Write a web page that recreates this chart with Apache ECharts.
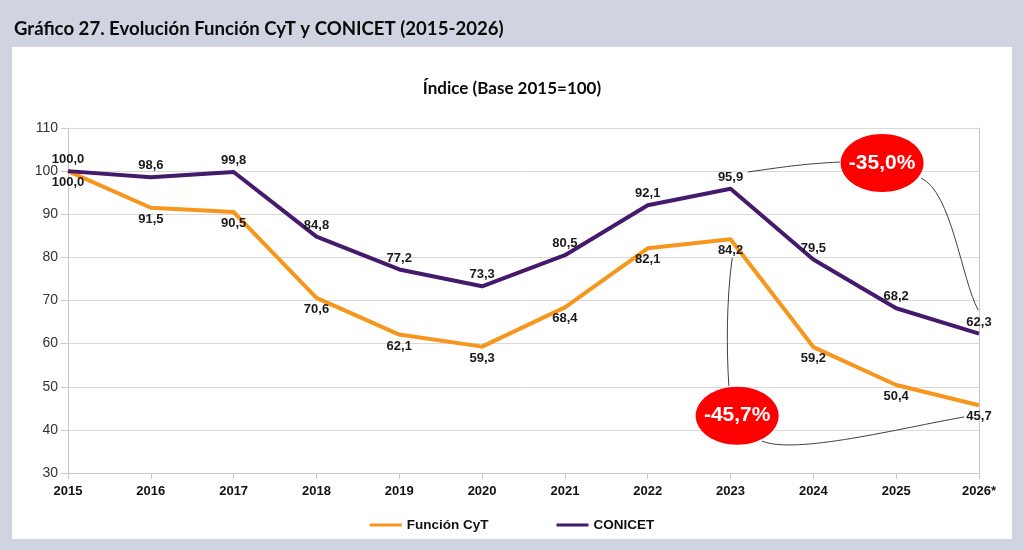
<!DOCTYPE html>
<html>
<head>
<meta charset="utf-8">
<script src="https://cdn.jsdelivr.net/npm/echarts@6/dist/echarts.min.js"></script>
<style>
  html, body { margin: 0; padding: 0; background: #d0d4e0; }
  #chart { width: 1024px; height: 550px; }
</style>
</head>
<body>
<div id="chart"></div>
<script>
var years = ['2015', '2016', '2017', '2018', '2019', '2020', '2021', '2022', '2023', '2024', '2025', '2026*'];
var funcionCyT = [100.0, 91.5, 90.5, 70.6, 62.1, 59.3, 68.4, 82.1, 84.2, 59.2, 50.4, 45.7];
var conicet = [100.0, 98.6, 99.8, 84.8, 77.2, 73.3, 80.5, 92.1, 95.9, 79.5, 68.2, 62.3];
var seriesNames = ['Función CyT', 'CONICET'];
var variaciones = ['-35,0%', '-45,7%'];

var myChart = echarts.init(document.getElementById('chart'));

function fmt(p) {
    return p.value.toFixed(1).replace('.', ',');
}

var labelStyle = {
    show: true,
    formatter: fmt,
    fontFamily: 'Liberation Sans',
    fontWeight: 'bold',
    fontSize: 13,
    color: '#1a1a1a',
    distance: 5
};

var panel = {
    type: 'rect',
    z: -10,
    shape: { x: 12, y: 47, width: 1000, height: 492 },
    style: { fill: '#ffffff' },
    silent: true
};

myChart.setOption({
    backgroundColor: '#d0d4e0',
    animation: false,
    title: [
        {
            text: 'Gráfico 27. Evolución Función CyT y CONICET (2015-2026)',
            left: 9,
            top: 14,
            textStyle: { fontFamily: 'Lato', fontWeight: 'bold', fontSize: 18.6, color: '#0a0a0a' }
        },
        {
            text: 'Índice (Base 2015=100)',
            left: 'center',
            top: 75,
            textStyle: { fontFamily: 'Lato', fontWeight: 'bold', fontSize: 17, color: '#0a0a0a' }
        }
    ],
    graphic: [panel],
    legend: {
        data: seriesNames,
        left: 'center',
        top: 513,
        icon: 'rect',
        itemWidth: 32,
        itemHeight: 3,
        itemGap: 68,
        textStyle: { fontFamily: 'Liberation Sans', fontWeight: 'bold', fontSize: 13.5, color: '#111' }
    },
    grid: { left: 68, right: 45, top: 128, bottom: 77 },
    xAxis: {
        type: 'category',
        data: years,
        boundaryGap: false,
        axisLine: { lineStyle: { color: '#c8c8c8' } },
        axisTick: { show: true, length: 6, lineStyle: { color: '#c8c8c8' } },
        axisLabel: { margin: 12, fontFamily: 'Liberation Sans', fontWeight: 'bold', fontSize: 13, color: '#111' },
        splitLine: { show: false }
    },
    yAxis: [
        {
            type: 'value',
            min: 30,
            max: 110,
            interval: 10,
            axisLine: { show: true, lineStyle: { color: '#c8c8c8' } },
            axisTick: { show: true, length: 7, lineStyle: { color: '#c8c8c8' } },
            axisLabel: { margin: 10, fontFamily: 'Liberation Sans', fontSize: 14, color: '#333' },
            splitLine: { lineStyle: { color: '#d9d9d9' } }
        },
        {
            type: 'value',
            position: 'right',
            min: 30,
            max: 110,
            interval: 10,
            axisLine: { show: true, lineStyle: { color: '#c8c8c8' } },
            axisTick: { show: false },
            axisLabel: { show: false },
            splitLine: { show: false }
        }
    ],
    series: [
        {
            name: seriesNames[0],
            type: 'line',
            data: funcionCyT,
            symbol: 'circle',
            symbolSize: 0,
            showSymbol: true,
            lineStyle: { width: 4, color: '#f7961c', join: 'round' },
            itemStyle: { color: '#f7961c' },
            label: Object.assign({ position: 'bottom' }, labelStyle)
        },
        {
            name: seriesNames[1],
            type: 'line',
            data: conicet,
            symbol: 'circle',
            symbolSize: 0,
            showSymbol: true,
            lineStyle: { width: 4, color: '#45196b', join: 'round' },
            itemStyle: { color: '#45196b' },
            label: Object.assign({ position: 'top' }, labelStyle)
        }
    ]
});

// anotaciones: posiciones en (indice de año, valor del eje)
var x0 = myChart.convertToPixel({ xAxisIndex: 0 }, 0);
var x11 = myChart.convertToPixel({ xAxisIndex: 0 }, years.length - 1);
function pt(i, v) {
    return [x0 + i * (x11 - x0) / (years.length - 1), myChart.convertToPixel({ yAxisIndex: 0 }, v)];
}

function curve(a, b, c, d) {
    var p1 = pt(a[0], a[1]), p2 = pt(b[0], b[1]), p3 = pt(c[0], c[1]), p4 = pt(d[0], d[1]);
    return {
        type: 'bezierCurve',
        z: 50,
        shape: { x1: p1[0], y1: p1[1], cpx1: p2[0], cpy1: p2[1], cpx2: p3[0], cpy2: p3[1], x2: p4[0], y2: p4[1] },
        style: { stroke: '#404040', lineWidth: 1, fill: null }
    };
}

function bubble(i, v, txt) {
    var c = pt(i, v);
    return {
        type: 'group',
        z: 60,
        children: [
            { type: 'ellipse', shape: { cx: c[0], cy: c[1], rx: 41.5, ry: 29 }, style: { fill: '#ff0000' } },
            {
                type: 'text',
                x: c[0], y: c[1],
                style: {
                    text: txt, fill: '#fff', align: 'center', verticalAlign: 'middle',
                    font: 'bold 21px "Liberation Sans"'
                }
            }
        ]
    };
}

myChart.setOption({
    graphic: [
        panel,
        curve([8.21, 99.8], [8.72, 101.2], [8.90, 101.7], [9.32, 102.1]),
        curve([10.30, 98.4], [10.67, 95.2], [10.79, 74.8], [10.99, 67.8]),
        curve([8.02, 79.9], [7.95, 70.1], [7.95, 58.5], [7.98, 50.2]),
        curve([8.38, 37.4], [8.78, 34.2], [10.05, 40.4], [10.82, 43.0]),
        bubble(9.83, 101.9, variaciones[0]),
        bubble(8.08, 43.3, variaciones[1])
    ]
}, { replaceMerge: ['graphic'] });
</script>
</body>
</html>
